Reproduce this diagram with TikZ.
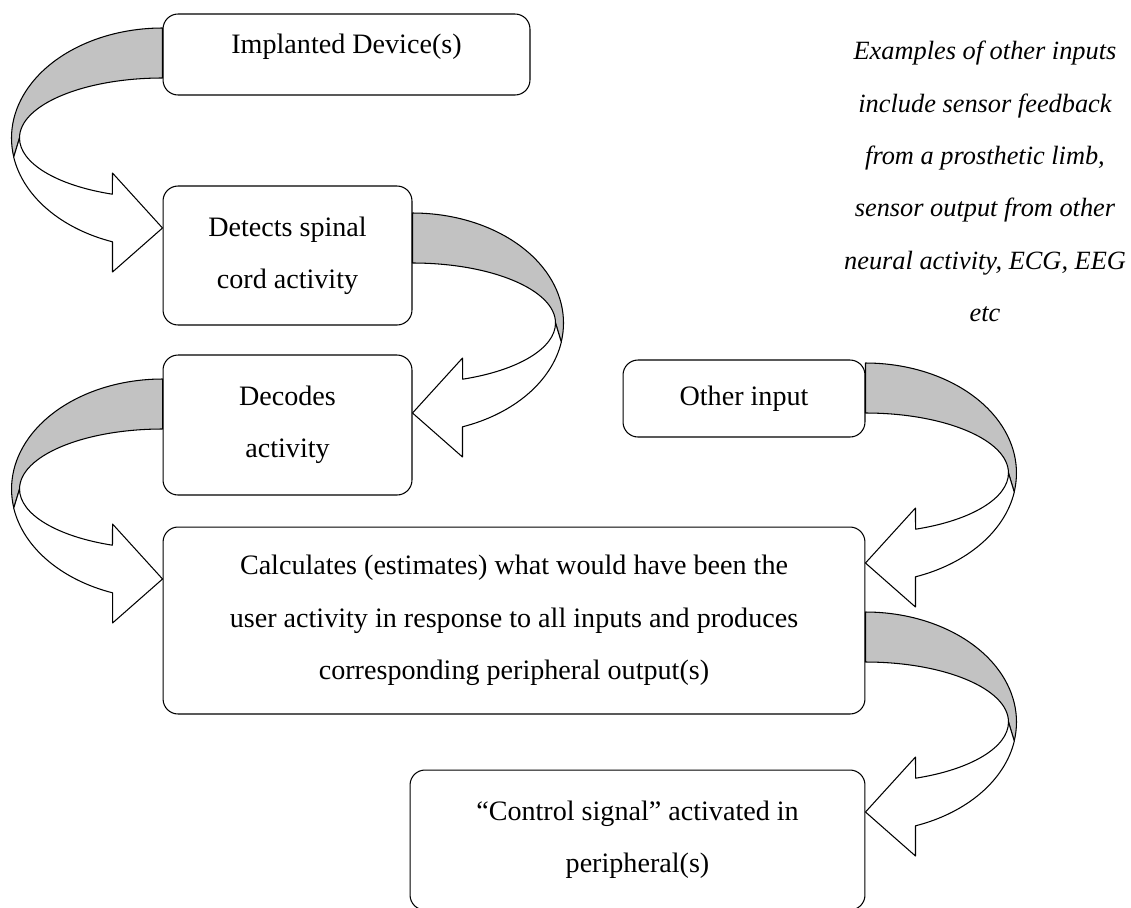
\documentclass[tikz,border=0pt]{standalone}
\usepackage{fontspec}
\setmainfont{Liberation Serif}
\usetikzlibrary{calc}
\definecolor{bandgray}{gray}{0.76}
\tikzset{
  stepbox/.style={draw, rounded corners=0.3cm, line width=0.6pt, align=center, inner sep=0pt,
    font=\fontsize{16}{29.8}\selectfont},
  % curved band arrow, origin at the tip, band leaves the source box 175 above
  ribbon/.pic={
    \draw[line width=0.6pt, fill=bandgray] (0,-200)
      arc[start angle=-90, end angle=10, x radius=151, y radius=110]
      -- (143,-90) arc[start angle=0, end angle=-90, x radius=143, y radius=60] -- cycle;
    \draw[line width=0.6pt, fill=white] (143,-90)
      arc[start angle=0, end angle=69.5, x radius=143, y radius=60]
      -- (50,-55) -- (0,0) -- (50,44) -- (50,13.8)
      arc[start angle=70.7, end angle=10, x radius=151, y radius=110] -- cycle;
  }
}
\begin{document}
\begin{tikzpicture}[x=0.02cm, y=-0.02cm, line join=round]
\clip (0,0) rectangle (1131,907);
\fill[white] (0,0) rectangle (1131,907);
% boxes
\node[stepbox, minimum width=7.34cm, minimum height=1.62cm, text depth=0.42cm] (imp) at (346.5,54.5) {Implanted Device(s)};
\node[stepbox, minimum width=4.98cm, minimum height=2.78cm] (det) at (287.5,255.5) {Detects spinal\\cord activity};
\node[stepbox, minimum width=4.98cm, minimum height=2.8cm] (dec) at (287.5,425) {Decodes\\activity};
\node[stepbox, minimum width=4.84cm, minimum height=1.54cm] (oth) at (744,398.5) {Other input};
\node[stepbox, minimum width=14.04cm, minimum height=3.74cm] (calc) at (514,620.5)
  {Calculates (estimates) what would have been the\\user activity in response to all inputs and produces\\corresponding peripheral output(s)};
\node[stepbox, minimum width=9.1cm, minimum height=2.8cm] (ctl) at (637.5,840)
  {“Control signal” activated in\\peripheral(s)};
% note
\node[align=center, font=\fontsize{15}{29.8}\selectfont\itshape] (note) at (985,181.5)
  {Examples of other inputs\\include sensor feedback\\from a prosthetic limb,\\sensor output from other\\neural activity, ECG, EEG\\etc};
% arrows
\pic[xscale=-1] at ($(det.west)+(0,-27.5)$) {ribbon};  % imp -> det
\pic at ($(dec.east)+(0,-12)$) {ribbon};               % det -> dec
\pic[xscale=-1] at ($(calc.west)+(0,-41.5)$) {ribbon}; % dec -> calc
\pic at ($(calc.east)+(0,-57.5)$) {ribbon};            % oth -> calc
\pic at ($(ctl.east)+(0,-28)$) {ribbon};               % calc -> ctl
\end{tikzpicture}
\end{document}
